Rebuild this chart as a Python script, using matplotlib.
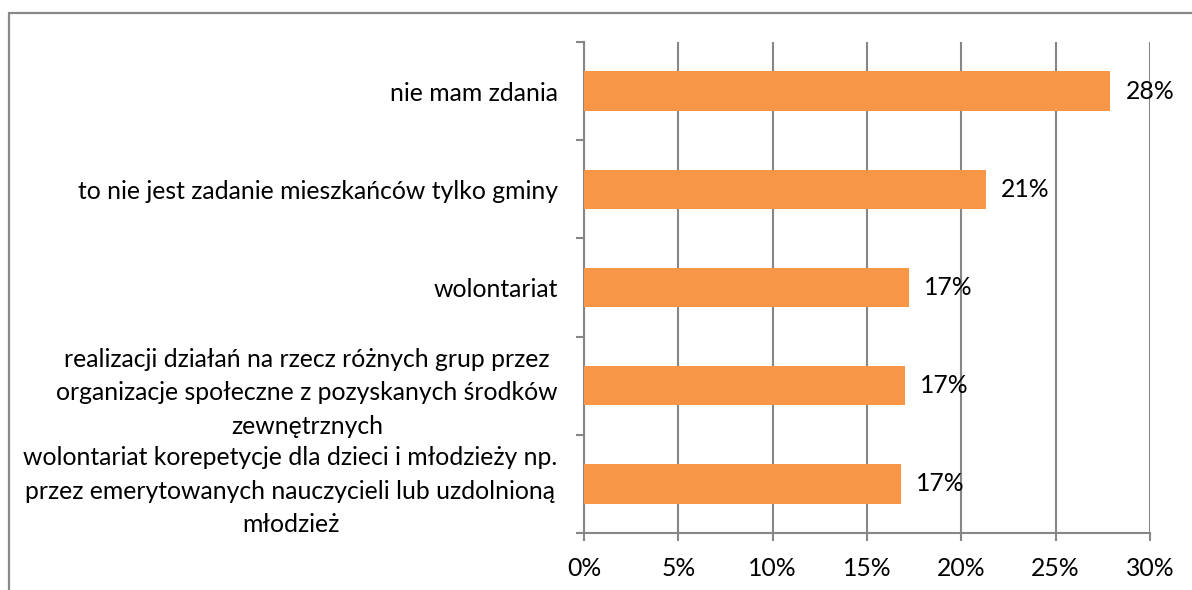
import numpy as np
import matplotlib.pyplot as plt
from matplotlib.patches import Rectangle
from matplotlib.ticker import FixedLocator, FuncFormatter

plt.rcParams['font.family'] = ['Lato', 'DejaVu Sans']

categories = [
    'nie mam zdania',
    'to nie jest zadanie mieszkańców tylko gminy',
    'wolontariat',
    'realizacji działań na rzecz różnych grup przez\norganizacje społeczne z pozyskanych środków\nzewnętrznych',
    'wolontariat korepetycje dla dzieci i młodzieży np.\nprzez emerytowanych nauczycieli lub uzdolnioną\nmłodzież',
]
values = [27.9, 21.3, 17.2, 17.0, 16.8]
value_labels = ['28%', '21%', '17%', '17%', '17%']
x_ticks = [0, 5, 10, 15, 20, 25, 30]

grid_col = '#868686'
bar_col = '#F79646'
fs = 17.8

fig = plt.figure(figsize=(11.92, 5.9), dpi=100)
ax = fig.add_axes([584 / 1192, 1 - 533 / 590, 566 / 1192, 491 / 590])

# outer chart frame (runs off the right and bottom edge)
fig.patches.append(Rectangle((9 / 1192, -0.1), 1.2, 1 - 13 / 590 + 0.1,
                             transform=fig.transFigure, fill=False,
                             edgecolor='#898989', linewidth=1.6))

n = len(categories)
ypos = np.arange(n)[::-1]
ax.barh(ypos, values, height=0.4, color=bar_col, zorder=3)

for y, v, lab in zip(ypos, values, value_labels):
    ax.text(v + 0.8, y, lab, va='center', ha='left', fontsize=fs, zorder=4)

ax.set_xlim(0, 30)
ax.set_ylim(-0.5, n - 0.5)
ax.set_xticks(x_ticks)
ax.xaxis.set_major_formatter(FuncFormatter(lambda v, p: f'{v:.0f}%'))
ax.grid(axis='x', color=grid_col, linewidth=1.5, zorder=0)
ax.tick_params(axis='x', length=6, width=1.5, color=grid_col, pad=11, labelsize=fs)

ax.set_yticks(ypos)
ax.set_yticklabels(categories, fontsize=fs, multialignment='center', linespacing=1.55)
ax.yaxis.set_minor_locator(FixedLocator(np.arange(-0.5, n, 1.0)))
ax.tick_params(axis='y', which='major', length=0, pad=19)
ax.tick_params(axis='y', which='minor', length=6, width=1.5, color=grid_col)

for s in ['top', 'right']:
    ax.spines[s].set_visible(False)
for s in ['left', 'bottom']:
    ax.spines[s].set_color(grid_col)
    ax.spines[s].set_linewidth(1.5)

fig.savefig('out.png', dpi=100)
